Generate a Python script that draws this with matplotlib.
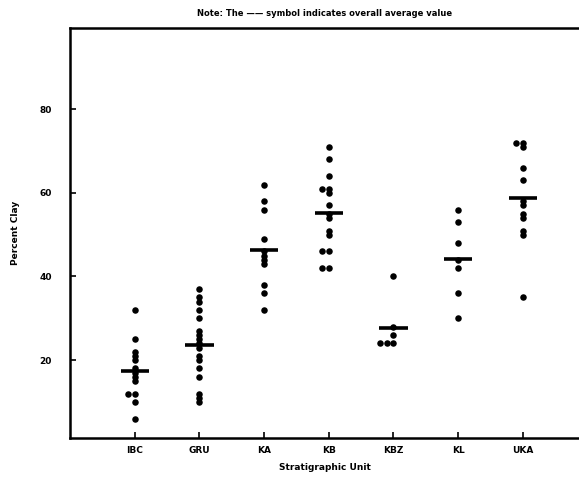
import matplotlib
matplotlib.use("Agg")
import matplotlib.pyplot as plt
import numpy as np

units = ["IBC", "GRU", "KA", "KB", "KBZ", "KL", "UKA"]
ibc = [32, 25, 22, 21, 20, 18, 17, 16, 15, 12, 12, 10, 6]
gru = [37, 35, 34, 32, 30, 27, 26, 25, 24, 23, 21, 20, 18, 16, 12, 11, 10]
ka = [62, 58, 56, 49, 46, 45, 44, 43, 38, 36, 32]
kb = [71, 68, 64, 61, 61, 60, 57, 55, 54, 51, 50, 46, 46, 42, 42]
kbz = [40, 28, 26, 24, 24, 24]
kl = [56, 53, 48, 44, 42, 36, 30]
uka = [72, 72, 71, 66, 63, 58, 57, 55, 54, 51, 50, 35]
series = [ibc, gru, ka, kb, kbz, kl, uka]
yticks = [20, 40, 60, 80]

plt.rcParams['font.family'] = ['DejaVu Sans']
plt.rcParams['font.weight'] = 'bold'

fig = plt.figure(figsize=(5.79, 4.79), dpi=100)
ax = fig.add_axes([0.121, 0.086, 0.879, 0.855])

for i, vals in enumerate(series):
    pos = i + 1
    seen = {}
    xs = []
    for v in vals:
        k = seen.get(v, 0)
        seen[v] = k + 1
        xs.append(pos - 0.1 * k)
    ax.scatter(xs, vals, s=22, color="black", zorder=3, linewidths=0)
    ax.hlines(np.mean(vals), pos - 0.22, pos + 0.22, color="black", lw=2.6, zorder=4)

ax.set_xlim(0.0, 7.87)
ax.set_ylim(1.4, 99.4)
ax.set_xticks(range(1, len(units) + 1))
ax.set_xticklabels(units, fontsize=6.5, fontweight='bold')
ax.set_yticks(yticks)
ax.set_yticklabels([str(t) for t in yticks], fontsize=6.5, fontweight='bold')
ax.tick_params(axis='both', direction='in', length=4, width=1.2)
ax.tick_params(axis='y', pad=13)
ax.tick_params(axis='x', pad=6)
for s in ['left', 'bottom', 'top']:
    ax.spines[s].set_linewidth(1.8)
ax.spines['right'].set_visible(False)

ax.set_xlabel("Stratigraphic Unit", fontsize=6.5, fontweight='bold', labelpad=6)
ax.set_ylabel("Percent Clay", fontsize=6.5, fontweight='bold', labelpad=14)
ax.set_title("Note: The \u2014\u2014 symbol indicates overall average value",
             fontsize=6, fontweight='bold', pad=9)

fig.savefig("out.png", dpi=100)
